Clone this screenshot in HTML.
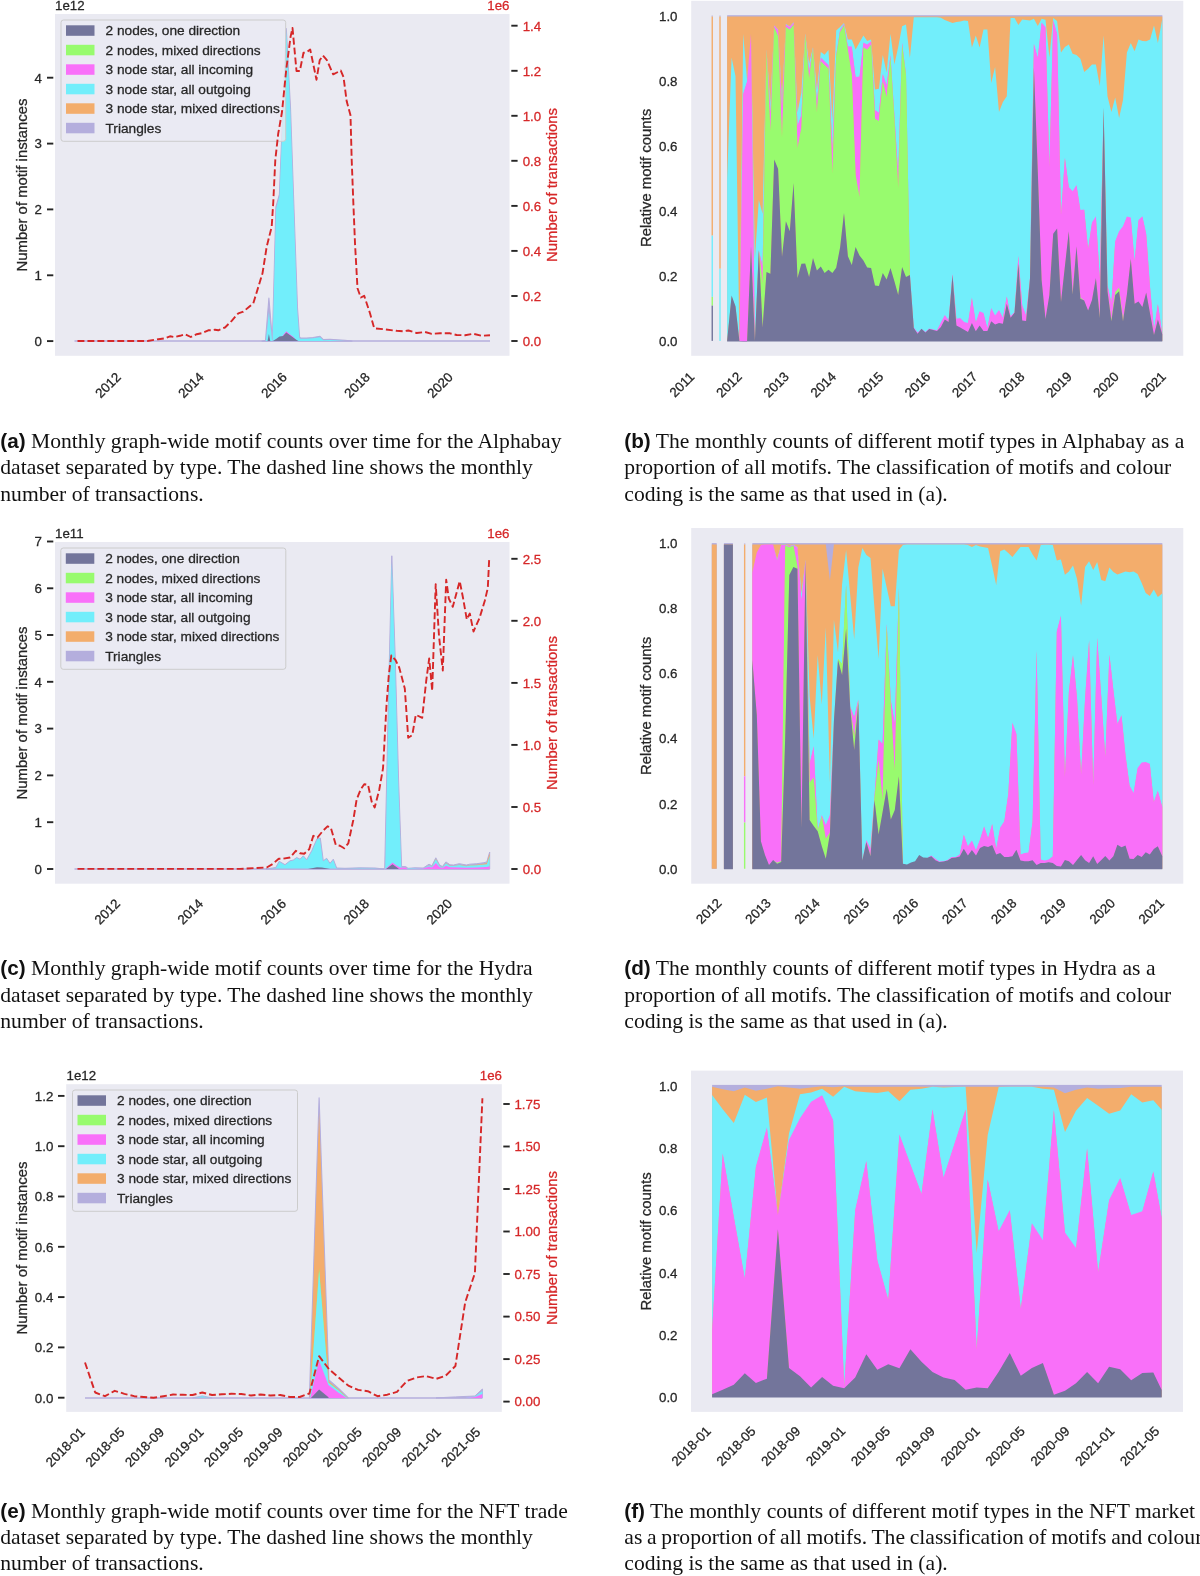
<!DOCTYPE html>
<html lang="en"><head><meta charset="utf-8"><title>Motif counts</title>
<style>
html,body{margin:0;padding:0;background:#fff;overflow:hidden;}
body{width:1200px;height:1576px;position:relative;overflow:hidden;font-family:"Liberation Sans",sans-serif;}
.cap{position:absolute;font-family:"Liberation Serif",serif;color:#111;white-space:nowrap;}
.cap b{font-family:"Liberation Sans",sans-serif;font-weight:bold;}
</style></head><body>
<div id="wrap" style="position:absolute;left:0;top:0;width:1200px;height:1576px;will-change:transform;overflow:hidden">
<svg width="1200" height="1576" viewBox="0 0 1200 1576" style="position:absolute;left:0;top:0" font-family="Liberation Sans, sans-serif" stroke-linecap="butt">
<style>text{stroke-width:0.28px;paint-order:stroke fill}</style>
<rect x="55.0" y="14.0" width="454.5" height="341.8" fill="#EAEAF2"/>
<line x1="74.5" y1="341.1" x2="490" y2="341.1" stroke="#B4AEDD" stroke-width="1.5"/>
<polygon points="262.0,341.1 265.5,340.2 268.9,298.0 272.4,339.8 275.9,207.0 279.4,194.5 282.8,110.0 286.3,28.5 290.5,108.0 294.0,209.5 297.5,308.0 299.6,337.3 300.6,338.0 306.7,338.0 313.0,337.5 320.0,336.3 323.3,339.6 330.0,339.3 337.0,339.8 345.0,340.3 352.0,341.1" fill="#B4AEDD" stroke="#B4AEDD" stroke-width="1.1" stroke-linejoin="round"/>
<polygon points="265.8,341.1 268.9,312.0 272.2,341.1" fill="#72EEFB"/>
<polygon points="272.6,341.1 276.1,208.5 279.5,196.0 282.9,112.0 286.3,31.0 290.3,110.0 293.8,210.5 297.2,309.0 299.3,338.0 300.4,338.8 306.7,338.8 313.0,338.3 320.0,337.2 323.3,340.2 330.0,340.0 345.0,341.1" fill="#72EEFB"/>
<polygon points="279.0,341.1 283.0,335.2 286.3,331.3 289.8,334.2 293.2,336.8 297.0,341.1" fill="#F970F9"/>
<polygon points="267.6,341.1 268.9,334.0 270.3,341.1" fill="#73759B"/>
<polygon points="272.8,341.1 276.0,339.0 279.5,336.5 283.0,336.0 286.3,332.5 289.8,335.0 293.2,337.5 296.7,340.0 298.5,341.1" fill="#73759B"/>
<rect x="61.0" y="20.0" width="224.7" height="121.3" rx="2.5" fill="#EAEAF2" fill-opacity="0.8" stroke="#CCCCCC" stroke-width="1"/>
<rect x="66.0" y="25.3" width="28.5" height="10.5" fill="#73759B"/>
<text x="105.5" y="35.2" font-size="13.70" fill="#262626" stroke="#262626">2 nodes, one direction</text>
<rect x="66.0" y="44.8" width="28.5" height="10.5" fill="#98FB6E"/>
<text x="105.5" y="54.7" font-size="13.70" fill="#262626" stroke="#262626">2 nodes, mixed directions</text>
<rect x="66.0" y="64.3" width="28.5" height="10.5" fill="#F970F9"/>
<text x="105.5" y="74.2" font-size="13.70" fill="#262626" stroke="#262626">3 node star, all incoming</text>
<rect x="66.0" y="83.8" width="28.5" height="10.5" fill="#72EEFB"/>
<text x="105.5" y="93.7" font-size="13.70" fill="#262626" stroke="#262626">3 node star, all outgoing</text>
<rect x="66.0" y="103.3" width="28.5" height="10.5" fill="#F3AD6C"/>
<text x="105.5" y="113.2" font-size="13.70" fill="#262626" stroke="#262626">3 node star, mixed directions</text>
<rect x="66.0" y="122.8" width="28.5" height="10.5" fill="#B4AEDD"/>
<text x="105.5" y="132.7" font-size="13.70" fill="#262626" stroke="#262626">Triangles</text>
<polyline points="77.5,341.0 147.5,341.0 158.3,339.2 165.0,338.3 170.0,336.3 174.2,337.0 180.0,335.8 185.0,334.2 190.8,337.0 196.7,334.2 202.5,333.0 208.3,330.3 211.7,330.3 215.0,329.7 218.3,330.3 225.0,327.5 231.7,320.8 238.3,313.3 243.3,311.7 249.2,306.7 253.3,303.3 262.5,273.3 266.7,246.7 271.7,226.7 273.3,201.7 275.3,160.0 278.2,133.7 282.0,112.0 286.3,69.0 290.6,36.6 292.5,28.0 296.5,71.0 299.8,71.0 303.5,52.8 306.8,52.2 310.2,49.5 316.5,79.7 319.7,60.3 323.0,55.5 326.7,59.8 333.2,74.3 340.8,70.6 343.5,77.0 346.7,101.3 350.5,115.3 351.7,160.0 353.3,201.7 355.0,243.3 357.5,288.3 360.8,297.5 364.2,295.8 370.0,313.3 374.2,328.3 383.3,329.2 396.7,330.8 403.3,331.3 408.3,330.5 416.7,333.0 425.0,332.0 431.7,333.8 440.0,333.3 450.0,333.3 456.7,335.0 465.0,335.3 473.3,333.8 481.7,335.8 490.0,335.3" fill="none" stroke="#D62728" stroke-width="1.9" stroke-dasharray="6.9 3.05" stroke-linejoin="round"/>
<line x1="47.0" y1="341.1" x2="53.3" y2="341.1" stroke="#262626" stroke-width="1.9"/>
<line x1="47.0" y1="275.3" x2="53.3" y2="275.3" stroke="#262626" stroke-width="1.9"/>
<line x1="47.0" y1="209.4" x2="53.3" y2="209.4" stroke="#262626" stroke-width="1.9"/>
<line x1="47.0" y1="143.6" x2="53.3" y2="143.6" stroke="#262626" stroke-width="1.9"/>
<line x1="47.0" y1="77.7" x2="53.3" y2="77.7" stroke="#262626" stroke-width="1.9"/>
<text x="42.0" y="345.9" font-size="13.30" fill="#262626" stroke="#262626" text-anchor="end" >0</text>
<text x="42.0" y="280.1" font-size="13.30" fill="#262626" stroke="#262626" text-anchor="end" >1</text>
<text x="42.0" y="214.2" font-size="13.30" fill="#262626" stroke="#262626" text-anchor="end" >2</text>
<text x="42.0" y="148.4" font-size="13.30" fill="#262626" stroke="#262626" text-anchor="end" >3</text>
<text x="42.0" y="82.5" font-size="13.30" fill="#262626" stroke="#262626" text-anchor="end" >4</text>
<text x="55.0" y="10.0" font-size="13.30" fill="#262626" stroke="#262626" text-anchor="start" >1e12</text>
<text x="21.5" y="185.0" font-size="14.90" fill="#262626" stroke="#262626" text-anchor="middle" dy="0.36em" transform="rotate(-90 21.5 185.0)">Number of motif instances</text>
<line x1="511.3" y1="341.0" x2="517.6" y2="341.0" stroke="#262626" stroke-width="1.9"/>
<line x1="511.3" y1="296.0" x2="517.6" y2="296.0" stroke="#262626" stroke-width="1.9"/>
<line x1="511.3" y1="250.9" x2="517.6" y2="250.9" stroke="#262626" stroke-width="1.9"/>
<line x1="511.3" y1="205.9" x2="517.6" y2="205.9" stroke="#262626" stroke-width="1.9"/>
<line x1="511.3" y1="160.8" x2="517.6" y2="160.8" stroke="#262626" stroke-width="1.9"/>
<line x1="511.3" y1="115.8" x2="517.6" y2="115.8" stroke="#262626" stroke-width="1.9"/>
<line x1="511.3" y1="70.8" x2="517.6" y2="70.8" stroke="#262626" stroke-width="1.9"/>
<line x1="511.3" y1="25.7" x2="517.6" y2="25.7" stroke="#262626" stroke-width="1.9"/>
<text x="522.7" y="345.8" font-size="13.30" fill="#D62728" stroke="#D62728" text-anchor="start" >0.0</text>
<text x="522.7" y="300.8" font-size="13.30" fill="#D62728" stroke="#D62728" text-anchor="start" >0.2</text>
<text x="522.7" y="255.7" font-size="13.30" fill="#D62728" stroke="#D62728" text-anchor="start" >0.4</text>
<text x="522.7" y="210.7" font-size="13.30" fill="#D62728" stroke="#D62728" text-anchor="start" >0.6</text>
<text x="522.7" y="165.6" font-size="13.30" fill="#D62728" stroke="#D62728" text-anchor="start" >0.8</text>
<text x="522.7" y="120.6" font-size="13.30" fill="#D62728" stroke="#D62728" text-anchor="start" >1.0</text>
<text x="522.7" y="75.6" font-size="13.30" fill="#D62728" stroke="#D62728" text-anchor="start" >1.2</text>
<text x="522.7" y="30.5" font-size="13.30" fill="#D62728" stroke="#D62728" text-anchor="start" >1.4</text>
<text x="509.5" y="10.0" font-size="13.30" fill="#D62728" stroke="#D62728" text-anchor="end" >1e6</text>
<text x="551.5" y="185.0" font-size="14.90" fill="#D62728" stroke="#D62728" text-anchor="middle" dy="0.36em" transform="rotate(-90 551.5 185.0)">Number of transactions</text>
<text x="107.8" y="385.0" font-size="13.30" fill="#262626" stroke="#262626" text-anchor="middle" dy="0.36em" transform="rotate(-45 107.8 385.0)">2012</text>
<text x="190.8" y="385.0" font-size="13.30" fill="#262626" stroke="#262626" text-anchor="middle" dy="0.36em" transform="rotate(-45 190.8 385.0)">2014</text>
<text x="273.8" y="385.0" font-size="13.30" fill="#262626" stroke="#262626" text-anchor="middle" dy="0.36em" transform="rotate(-45 273.8 385.0)">2016</text>
<text x="356.8" y="385.0" font-size="13.30" fill="#262626" stroke="#262626" text-anchor="middle" dy="0.36em" transform="rotate(-45 356.8 385.0)">2018</text>
<text x="439.8" y="385.0" font-size="13.30" fill="#262626" stroke="#262626" text-anchor="middle" dy="0.36em" transform="rotate(-45 439.8 385.0)">2020</text>
<rect x="691.2" y="0.8" width="492.1" height="355.0" fill="#EAEAF2"/>
<rect x="711.55" y="15.60" width="1.40" height="1.00" fill="#B4AEDD"/>
<rect x="711.55" y="16.60" width="1.40" height="219.03" fill="#F3AD6C"/>
<rect x="711.55" y="235.62" width="1.40" height="61.25" fill="#72EEFB"/>
<rect x="711.55" y="296.88" width="1.40" height="8.75" fill="#98FB6E"/>
<rect x="711.55" y="305.62" width="1.40" height="35.27" fill="#73759B"/>
<rect x="719.30" y="15.60" width="1.40" height="1.00" fill="#B4AEDD"/>
<rect x="719.30" y="16.60" width="1.40" height="252.15" fill="#F3AD6C"/>
<rect x="719.30" y="268.75" width="1.40" height="72.15" fill="#72EEFB"/>
<rect x="727.15" y="15.20" width="435.20" height="325.70" fill="#B4AEDD"/>
<polygon points="727.1,340.9 727.1,16.6 731.6,16.6 735.5,16.6 739.4,16.6 743.2,16.6 747.1,16.6 751.0,16.6 754.9,16.6 758.8,16.6 762.6,16.6 766.5,16.6 770.4,16.6 774.2,16.6 778.1,16.6 782.0,16.6 785.9,16.6 789.8,16.6 793.6,16.6 797.5,16.6 801.4,16.6 805.2,16.6 809.1,16.6 813.0,16.6 816.9,16.6 820.8,16.6 824.6,16.6 828.5,16.6 832.4,16.6 836.2,16.6 840.1,16.6 844.0,16.6 847.9,16.6 851.8,16.6 855.6,16.6 859.5,16.6 863.4,16.6 867.2,16.6 871.1,16.6 875.0,16.6 878.9,16.6 882.8,16.6 886.6,16.6 890.5,16.6 894.4,16.6 898.2,16.6 902.1,16.6 906.0,16.6 909.9,16.6 913.8,16.6 917.6,16.6 921.5,16.6 925.4,16.6 929.2,16.6 933.1,16.6 937.0,16.6 940.9,16.6 944.8,16.6 948.6,16.6 952.5,16.6 956.4,16.6 960.2,16.6 964.1,16.6 968.0,16.6 971.9,16.6 975.8,16.6 979.6,16.6 983.5,16.6 987.4,16.6 991.2,16.6 995.1,16.6 999.0,16.6 1002.9,16.6 1006.8,16.6 1010.6,16.6 1014.5,16.6 1018.4,16.6 1022.2,16.6 1026.1,16.6 1030.0,16.6 1033.9,16.6 1037.8,16.6 1041.6,16.6 1045.5,16.6 1049.4,16.6 1053.2,16.6 1057.1,16.6 1061.0,16.6 1064.9,16.6 1068.8,16.6 1072.6,16.6 1076.5,16.6 1080.4,16.6 1084.2,16.6 1088.1,16.6 1092.0,16.6 1095.9,16.6 1099.8,16.6 1103.6,16.6 1107.5,16.6 1111.4,16.6 1115.2,16.6 1119.1,16.6 1123.0,16.6 1126.9,16.6 1130.8,16.6 1134.6,16.6 1138.5,16.6 1142.4,16.6 1146.2,16.6 1150.1,16.6 1154.0,16.6 1157.9,16.6 1162.3,16.6 1162.3,340.9" fill="#F3AD6C"/>
<polygon points="727.1,178.8 731.6,57.5 735.5,76.2 739.4,340.9 743.2,33.8 747.1,80.6 751.0,33.8 754.9,258.8 758.8,200.0 762.6,213.8 766.5,49.4 770.4,103.8 774.2,25.4 778.1,29.4 782.0,100.0 785.9,24.1 789.8,26.6 793.6,22.2 797.5,112.5 801.4,92.5 805.2,33.5 809.1,63.8 813.0,47.2 816.9,90.6 820.8,51.9 824.6,54.8 828.5,50.0 832.4,120.6 836.2,30.6 840.1,26.9 844.0,23.1 847.9,39.4 851.8,39.4 855.6,49.4 859.5,42.5 863.4,35.6 867.2,41.0 871.1,39.4 875.0,89.4 878.9,88.8 882.8,55.0 886.6,72.5 890.5,33.8 894.4,64.4 898.2,46.9 902.1,26.2 906.0,24.4 909.9,58.1 913.8,17.2 917.6,17.2 921.5,17.2 925.4,17.2 929.2,17.2 933.1,17.2 937.0,17.2 940.9,17.8 944.8,20.0 948.6,21.5 952.5,23.1 956.4,21.9 960.2,21.5 964.1,20.6 968.0,21.0 971.9,47.5 975.8,35.6 979.6,47.5 983.5,29.4 987.4,29.4 991.2,83.1 995.1,66.9 999.0,111.9 1002.9,101.9 1006.8,96.2 1010.6,18.1 1014.5,18.1 1018.4,25.0 1022.2,19.4 1026.1,20.0 1030.0,20.6 1033.9,18.8 1037.8,26.0 1041.6,18.8 1045.5,19.8 1049.4,57.5 1053.2,18.1 1057.1,21.0 1061.0,52.5 1064.9,46.9 1068.8,44.4 1072.6,53.8 1076.5,55.0 1080.4,58.8 1084.2,71.9 1088.1,68.8 1092.0,64.4 1095.9,64.4 1099.8,86.0 1103.6,35.6 1107.5,96.2 1111.4,111.9 1115.2,97.5 1119.1,118.1 1123.0,100.0 1126.9,52.5 1130.8,43.1 1134.6,51.2 1138.5,39.4 1142.4,41.0 1146.2,41.2 1150.1,39.4 1154.0,25.6 1157.9,43.1 1162.3,18.8 1162.3,334.6 1157.9,304.6 1154.0,330.3 1150.1,288.4 1146.2,234.7 1142.4,217.2 1138.5,220.9 1134.6,262.1 1130.8,218.4 1126.9,217.4 1123.0,227.2 1119.1,232.2 1115.2,242.2 1111.4,303.4 1107.5,285.9 1103.6,108.4 1099.8,279.6 1095.9,217.2 1092.0,223.4 1088.1,249.7 1084.2,210.3 1080.4,210.9 1076.5,185.9 1072.6,192.2 1068.8,187.8 1064.9,158.4 1061.0,215.9 1057.1,34.6 1053.2,20.9 1049.4,167.8 1045.5,27.8 1041.6,23.4 1037.8,58.4 1033.9,44.6 1030.0,278.4 1026.1,316.5 1022.2,305.9 1018.4,256.5 1014.5,312.8 1010.6,317.1 1006.8,297.1 1002.9,318.6 999.0,310.9 995.1,316.5 991.2,309.0 987.4,329.0 983.5,314.0 979.6,312.1 975.8,323.4 971.9,298.4 968.0,324.0 964.1,322.8 960.2,319.0 956.4,319.6 952.5,274.6 948.6,320.9 944.8,315.9 940.9,323.4 937.0,331.1 933.1,330.3 929.2,329.4 925.4,332.8 921.5,329.6 917.6,333.4 913.8,328.4 909.9,275.3 906.0,74.7 902.1,43.4 898.2,174.7 894.4,115.9 890.5,55.9 886.6,85.9 882.8,74.7 878.9,113.4 875.0,110.9 871.1,42.1 867.2,45.3 863.4,43.4 859.5,77.4 855.6,77.8 851.8,47.4 847.9,47.1 844.0,24.6 840.1,30.6 836.2,55.6 832.4,149.7 828.5,65.9 824.6,62.1 820.8,58.4 816.9,103.4 813.0,48.6 809.1,72.2 805.2,34.9 801.4,115.9 797.5,126.5 793.6,23.4 789.8,27.8 785.9,25.3 782.0,109.7 778.1,30.9 774.2,26.5 770.4,114.7 766.5,50.6 762.6,267.1 758.8,250.9 754.9,341.4 751.0,33.8 747.1,82.2 743.2,94.7 739.4,340.9 735.5,307.1 731.6,296.5 727.1,341.4" fill="#72EEFB"/>
<polygon points="739.4,340.9 743.2,93.8 747.1,81.2 751.0,33.8 754.9,340.9 754.9,340.9 751.0,247.2 747.1,341.4 743.2,341.4 739.4,340.9" fill="#F970F9"/>
<polygon points="758.8,250.0 762.6,266.2 766.5,49.8 770.4,113.8 774.2,25.6 778.1,30.0 782.0,108.8 785.9,24.4 789.8,26.9 793.6,22.5 797.5,125.6 801.4,115.0 805.2,34.0 809.1,71.2 813.0,47.8 816.9,102.5 820.8,57.5 824.6,61.2 828.5,65.0 832.4,148.8 836.2,54.8 840.1,29.8 844.0,23.8 847.9,46.2 851.8,46.5 855.6,76.9 859.5,76.5 863.4,42.5 867.2,44.4 871.1,41.2 875.0,110.0 878.9,112.5 882.8,73.8 886.6,85.0 890.5,55.0 894.4,115.0 898.2,173.8 902.1,42.5 906.0,73.8 909.9,274.4 913.8,327.5 917.6,332.5 921.5,328.8 925.4,331.9 929.2,328.5 933.1,329.4 937.0,330.2 940.9,322.5 944.8,315.0 948.6,320.0 952.5,273.8 956.4,318.8 960.2,318.1 964.1,321.9 968.0,323.1 971.9,297.5 975.8,322.5 979.6,311.2 983.5,313.1 987.4,328.1 991.2,308.1 995.1,315.6 999.0,310.0 1002.9,317.8 1006.8,296.2 1010.6,316.2 1014.5,311.9 1018.4,255.6 1022.2,305.0 1026.1,315.6 1030.0,277.5 1033.9,43.8 1037.8,57.5 1041.6,22.5 1045.5,26.9 1049.4,166.9 1053.2,20.0 1057.1,33.8 1061.0,215.0 1064.9,157.5 1068.8,186.9 1072.6,191.2 1076.5,185.0 1080.4,210.0 1084.2,209.4 1088.1,248.8 1092.0,222.5 1095.9,216.2 1099.8,278.8 1103.6,107.5 1107.5,285.0 1111.4,302.5 1115.2,241.2 1119.1,231.2 1123.0,226.2 1126.9,216.5 1130.8,217.5 1134.6,261.2 1138.5,220.0 1142.4,216.2 1146.2,233.8 1150.1,287.5 1154.0,329.4 1157.9,303.8 1162.3,333.8 1162.3,335.3 1157.9,320.3 1154.0,335.9 1150.1,314.6 1146.2,293.4 1142.4,307.8 1138.5,302.4 1134.6,304.6 1130.8,259.6 1126.9,295.3 1123.0,320.6 1119.1,288.6 1115.2,292.9 1111.4,320.6 1107.5,292.1 1103.6,107.5 1099.8,317.5 1095.9,279.0 1092.0,300.9 1088.1,311.5 1084.2,301.5 1080.4,298.4 1076.5,247.2 1072.6,294.1 1068.8,232.2 1064.9,267.1 1061.0,302.8 1057.1,229.4 1053.2,234.7 1049.4,295.9 1045.5,319.9 1041.6,280.9 1037.8,172.9 1033.9,68.4 1030.0,279.6 1026.1,321.9 1022.2,321.5 1018.4,264.6 1014.5,313.6 1010.6,318.6 1006.8,304.6 1002.9,324.6 999.0,324.0 995.1,325.3 991.2,322.1 987.4,331.9 983.5,331.9 979.6,326.5 975.8,332.1 971.9,324.0 968.0,332.8 964.1,330.6 960.2,328.4 956.4,326.5 952.5,275.9 948.6,322.8 944.8,320.3 940.9,327.8 937.0,331.9 933.1,330.9 929.2,329.9 925.4,333.4 921.5,328.8 917.6,334.6 913.8,329.0 909.9,275.9 906.0,75.9 902.1,45.9 898.2,189.0 894.4,119.7 890.5,58.4 886.6,97.8 882.8,82.2 878.9,121.9 875.0,119.7 871.1,45.3 867.2,50.3 863.4,48.4 859.5,197.8 855.6,175.9 851.8,75.9 847.9,50.9 844.0,25.9 840.1,32.8 836.2,57.1 832.4,174.7 828.5,69.4 824.6,65.9 820.8,62.1 816.9,113.4 813.0,49.0 809.1,79.7 805.2,35.3 801.4,128.4 797.5,149.0 793.6,25.3 789.8,30.3 785.9,27.8 782.0,138.4 778.1,37.1 774.2,27.8 770.4,132.2 766.5,50.9 762.6,284.6 758.8,250.0" fill="#F970F9"/>
<polygon points="758.8,250.0 762.6,283.8 766.5,50.0 770.4,131.2 774.2,26.9 778.1,36.2 782.0,137.5 785.9,26.9 789.8,29.4 793.6,24.4 797.5,148.1 801.4,127.5 805.2,34.4 809.1,78.8 813.0,48.1 816.9,112.5 820.8,61.2 824.6,65.0 828.5,68.5 832.4,173.8 836.2,56.2 840.1,31.9 844.0,25.0 847.9,50.0 851.8,75.0 855.6,175.0 859.5,196.9 863.4,47.5 867.2,49.4 871.1,44.4 875.0,118.8 878.9,121.0 882.8,81.2 886.6,96.9 890.5,57.5 894.4,118.8 898.2,188.1 902.1,45.0 906.0,75.0 909.9,275.0 909.9,275.0 906.0,277.8 902.1,267.8 898.2,295.9 894.4,282.1 890.5,269.0 886.6,280.3 882.8,274.0 878.9,286.9 875.0,286.5 871.1,269.0 867.2,268.4 863.4,261.5 859.5,256.5 855.6,247.8 851.8,265.9 847.9,257.1 844.0,214.0 840.1,248.4 836.2,268.6 832.4,273.8 828.5,270.6 824.6,274.0 820.8,267.4 816.9,271.5 813.0,259.0 809.1,277.8 805.2,264.4 801.4,264.6 797.5,279.0 793.6,184.0 789.8,232.2 785.9,222.2 782.0,257.8 778.1,169.7 774.2,160.3 770.4,274.6 766.5,272.8 762.6,328.4 758.8,250.0" fill="#98FB6E"/>
<polygon points="1068.8,231.2 1072.6,293.2 1076.5,246.2 1080.4,297.6 1084.2,300.6 1084.2,300.6 1080.4,299.6 1076.5,246.2 1072.6,295.3 1068.8,231.2" fill="#98FB6E"/>
<polygon points="1095.9,278.1 1099.8,316.6 1103.6,107.5 1103.6,107.5 1099.8,319.0 1095.9,278.1" fill="#98FB6E"/>
<polygon points="1107.5,291.2 1111.4,319.8 1115.2,292.0 1119.1,287.8 1123.0,319.8 1126.9,294.4 1126.9,294.4 1123.0,322.1 1119.1,292.1 1115.2,295.9 1111.4,322.1 1107.5,291.2" fill="#98FB6E"/>
<polygon points="727.1,341.4 727.1,340.9 731.6,295.6 735.5,306.2 739.4,340.9 743.2,340.9 747.1,340.9 751.0,246.2 754.9,340.9 758.8,250.0 762.6,327.5 766.5,271.9 770.4,273.8 774.2,159.4 778.1,168.8 782.0,256.9 785.9,221.2 789.8,231.2 793.6,183.1 797.5,278.1 801.4,263.8 805.2,263.5 809.1,276.9 813.0,258.1 816.9,270.6 820.8,266.5 824.6,273.1 828.5,269.8 832.4,272.9 836.2,267.8 840.1,247.5 844.0,213.1 847.9,256.2 851.8,265.0 855.6,246.9 859.5,255.6 863.4,260.6 867.2,267.5 871.1,268.1 875.0,285.6 878.9,286.0 882.8,273.1 886.6,279.4 890.5,268.1 894.4,281.2 898.2,295.0 902.1,266.9 906.0,276.9 909.9,275.0 913.8,328.1 917.6,333.8 921.5,328.8 925.4,332.5 929.2,329.0 933.1,330.0 937.0,331.0 940.9,326.9 944.8,319.4 948.6,321.9 952.5,275.0 956.4,325.6 960.2,327.5 964.1,329.8 968.0,331.9 971.9,323.1 975.8,331.2 979.6,325.6 983.5,331.0 987.4,331.0 991.2,321.2 995.1,324.4 999.0,323.1 1002.9,323.8 1006.8,303.8 1010.6,317.8 1014.5,312.8 1018.4,263.8 1022.2,320.6 1026.1,321.0 1030.0,278.8 1033.9,67.5 1037.8,172.0 1041.6,280.0 1045.5,319.0 1049.4,295.0 1053.2,233.8 1057.1,228.5 1061.0,301.9 1064.9,266.2 1068.8,231.2 1072.6,294.4 1076.5,246.2 1080.4,298.8 1084.2,300.6 1088.1,310.6 1092.0,300.0 1095.9,278.1 1099.8,318.1 1103.6,107.5 1107.5,291.2 1111.4,321.2 1115.2,295.0 1119.1,291.2 1123.0,321.2 1126.9,294.4 1130.8,258.8 1134.6,303.8 1138.5,301.5 1142.4,306.9 1146.2,292.5 1150.1,313.8 1154.0,335.0 1157.9,319.4 1162.3,334.4 1162.3,341.4" fill="#73759B"/>
<text x="677.5" y="346.1" font-size="13.30" fill="#262626" stroke="#262626" text-anchor="end" >0.0</text>
<text x="677.5" y="281.0" font-size="13.30" fill="#262626" stroke="#262626" text-anchor="end" >0.2</text>
<text x="677.5" y="215.9" font-size="13.30" fill="#262626" stroke="#262626" text-anchor="end" >0.4</text>
<text x="677.5" y="150.8" font-size="13.30" fill="#262626" stroke="#262626" text-anchor="end" >0.6</text>
<text x="677.5" y="85.7" font-size="13.30" fill="#262626" stroke="#262626" text-anchor="end" >0.8</text>
<text x="677.5" y="20.6" font-size="13.30" fill="#262626" stroke="#262626" text-anchor="end" >1.0</text>
<text x="645.5" y="178.0" font-size="14.90" fill="#262626" stroke="#262626" text-anchor="middle" dy="0.36em" transform="rotate(-90 645.5 178.0)">Relative motif counts</text>
<text x="681.8" y="384.5" font-size="13.30" fill="#262626" stroke="#262626" text-anchor="middle" dy="0.36em" transform="rotate(-45 681.8 384.5)">2011</text>
<text x="728.9" y="384.5" font-size="13.30" fill="#262626" stroke="#262626" text-anchor="middle" dy="0.36em" transform="rotate(-45 728.9 384.5)">2012</text>
<text x="776.0" y="384.5" font-size="13.30" fill="#262626" stroke="#262626" text-anchor="middle" dy="0.36em" transform="rotate(-45 776.0 384.5)">2013</text>
<text x="823.1" y="384.5" font-size="13.30" fill="#262626" stroke="#262626" text-anchor="middle" dy="0.36em" transform="rotate(-45 823.1 384.5)">2014</text>
<text x="870.3" y="384.5" font-size="13.30" fill="#262626" stroke="#262626" text-anchor="middle" dy="0.36em" transform="rotate(-45 870.3 384.5)">2015</text>
<text x="917.4" y="384.5" font-size="13.30" fill="#262626" stroke="#262626" text-anchor="middle" dy="0.36em" transform="rotate(-45 917.4 384.5)">2016</text>
<text x="964.5" y="384.5" font-size="13.30" fill="#262626" stroke="#262626" text-anchor="middle" dy="0.36em" transform="rotate(-45 964.5 384.5)">2017</text>
<text x="1011.7" y="384.5" font-size="13.30" fill="#262626" stroke="#262626" text-anchor="middle" dy="0.36em" transform="rotate(-45 1011.7 384.5)">2018</text>
<text x="1058.8" y="384.5" font-size="13.30" fill="#262626" stroke="#262626" text-anchor="middle" dy="0.36em" transform="rotate(-45 1058.8 384.5)">2019</text>
<text x="1105.9" y="384.5" font-size="13.30" fill="#262626" stroke="#262626" text-anchor="middle" dy="0.36em" transform="rotate(-45 1105.9 384.5)">2020</text>
<text x="1153.0" y="384.5" font-size="13.30" fill="#262626" stroke="#262626" text-anchor="middle" dy="0.36em" transform="rotate(-45 1153.0 384.5)">2021</text>
<rect x="55.0" y="542.0" width="454.5" height="341.7" fill="#EAEAF2"/>
<line x1="74.5" y1="869.0" x2="489.7" y2="869.0" stroke="#B4AEDD" stroke-width="1.5"/>
<polygon points="266.0,869.0 275.8,867.5 279.2,861.3 285.0,864.7 290.0,860.8 293.3,860.0 296.7,857.5 300.0,859.2 303.3,855.8 306.7,859.7 311.7,850.8 317.0,838.7 320.3,838.0 323.3,860.8 326.7,858.3 330.0,863.3 333.3,859.2 336.7,868.0 345.0,868.3 360.0,867.8 375.0,868.0 384.0,869.0" fill="#72EEFB" stroke="#B4AEDD" stroke-width="1.0" stroke-linejoin="round"/>
<polygon points="308.0,869.0 317.0,867.3 322.0,867.6 330.0,869.0" fill="#73759B"/>
<polygon points="384.7,869.0 388.2,710.0 391.8,555.8 395.3,660.0 398.6,780.0 401.6,866.6 405.7,866.6 408.0,868.3 415.0,867.8 423.2,868.0 429.0,864.2 431.9,865.8 435.8,857.8 439.5,864.8 442.4,866.6 445.9,861.9 450.0,864.8 453.5,865.0 459.3,863.7 466.3,865.0 469.8,864.2 476.8,863.7 483.8,862.7 486.8,861.9 489.7,852.0 489.7,869.0" fill="#B4AEDD" stroke="#B4AEDD" stroke-width="1.0" stroke-linejoin="round"/>
<polygon points="401.6,869.0 401.6,867.6 405.7,867.6 408.0,869.0 415.0,868.8 423.2,869.0 429.0,865.2 431.9,866.8 435.8,858.8 439.5,865.8 442.4,867.6 445.9,862.9 450.0,865.8 453.5,866.0 459.3,864.7 466.3,866.0 469.8,865.2 476.8,864.7 483.8,863.7 486.8,862.9 489.7,853.0 489.7,869.0" fill="#F3AD6C"/>
<polygon points="385.2,869.0 388.5,712.0 391.8,562.0 395.0,662.0 398.2,781.0 401.3,867.2 405.7,867.4 408.0,868.6 415.0,868.3 423.2,868.4 429.0,865.3 431.9,866.7 435.8,859.3 439.5,865.8 442.4,867.4 445.9,863.2 450.0,865.9 453.5,866.1 459.3,865.0 466.3,866.2 469.8,865.6 476.8,865.2 483.8,864.6 486.8,864.2 489.7,856.0 489.7,869.0" fill="#72EEFB"/>
<polygon points="385.5,869.0 388.7,866.0 392.5,862.5 396.5,865.5 400.0,867.5 405.7,867.6 408.0,869.0 423.2,868.6 429.0,866.6 431.9,867.6 435.9,863.1 439.5,867.0 442.4,868.0 446.0,865.8 450.0,867.2 459.3,867.4 466.3,867.8 476.8,867.4 486.8,867.0 489.7,866.3 489.7,869.0" fill="#F970F9"/>
<polygon points="386.0,869.0 389.0,866.8 392.5,864.2 396.0,866.8 399.0,869.0" fill="#73759B"/>
<rect x="60.8" y="548.0" width="225.0" height="121.3" rx="2.5" fill="#EAEAF2" fill-opacity="0.8" stroke="#CCCCCC" stroke-width="1"/>
<rect x="65.8" y="553.3" width="28.5" height="10.5" fill="#73759B"/>
<text x="105.2" y="563.2" font-size="13.70" fill="#262626" stroke="#262626">2 nodes, one direction</text>
<rect x="65.8" y="572.8" width="28.5" height="10.5" fill="#98FB6E"/>
<text x="105.2" y="582.7" font-size="13.70" fill="#262626" stroke="#262626">2 nodes, mixed directions</text>
<rect x="65.8" y="592.3" width="28.5" height="10.5" fill="#F970F9"/>
<text x="105.2" y="602.2" font-size="13.70" fill="#262626" stroke="#262626">3 node star, all incoming</text>
<rect x="65.8" y="611.8" width="28.5" height="10.5" fill="#72EEFB"/>
<text x="105.2" y="621.7" font-size="13.70" fill="#262626" stroke="#262626">3 node star, all outgoing</text>
<rect x="65.8" y="631.3" width="28.5" height="10.5" fill="#F3AD6C"/>
<text x="105.2" y="641.2" font-size="13.70" fill="#262626" stroke="#262626">3 node star, mixed directions</text>
<rect x="65.8" y="650.8" width="28.5" height="10.5" fill="#B4AEDD"/>
<text x="105.2" y="660.7" font-size="13.70" fill="#262626" stroke="#262626">Triangles</text>
<polyline points="77.5,868.9 240.0,868.9 256.7,868.0 266.7,867.5 272.5,864.2 278.7,858.7 283.3,858.7 290.0,857.5 295.8,850.8 300.0,853.3 304.2,853.7 309.2,849.2 313.3,835.8 317.5,837.5 322.5,831.3 327.5,826.3 330.8,827.5 335.8,845.0 340.0,845.8 344.2,848.3 348.3,843.3 353.3,820.0 356.7,799.2 360.8,789.2 364.2,784.2 368.0,784.7 371.7,801.7 374.7,807.5 379.2,790.0 383.0,768.3 383.5,760.0 386.5,705.0 388.8,675.0 391.3,655.5 395.5,660.0 399.2,667.5 404.8,688.5 408.2,737.7 412.3,735.0 415.8,714.8 422.2,717.8 426.2,681.0 429.2,658.5 432.2,690.8 435.7,584.2 439.0,636.0 442.8,670.5 446.2,579.8 448.8,598.5 452.8,606.8 459.7,581.2 463.0,597.8 466.8,619.5 469.8,613.5 473.5,631.5 479.5,618.0 484.8,600.8 487.8,588.0 489.2,558.8" fill="none" stroke="#D62728" stroke-width="1.9" stroke-dasharray="6.9 3.05" stroke-linejoin="round"/>
<line x1="47.0" y1="869.0" x2="53.3" y2="869.0" stroke="#262626" stroke-width="1.9"/>
<line x1="47.0" y1="822.2" x2="53.3" y2="822.2" stroke="#262626" stroke-width="1.9"/>
<line x1="47.0" y1="775.4" x2="53.3" y2="775.4" stroke="#262626" stroke-width="1.9"/>
<line x1="47.0" y1="728.6" x2="53.3" y2="728.6" stroke="#262626" stroke-width="1.9"/>
<line x1="47.0" y1="681.8" x2="53.3" y2="681.8" stroke="#262626" stroke-width="1.9"/>
<line x1="47.0" y1="635.0" x2="53.3" y2="635.0" stroke="#262626" stroke-width="1.9"/>
<line x1="47.0" y1="588.3" x2="53.3" y2="588.3" stroke="#262626" stroke-width="1.9"/>
<line x1="47.0" y1="541.5" x2="53.3" y2="541.5" stroke="#262626" stroke-width="1.9"/>
<text x="42.0" y="873.8" font-size="13.30" fill="#262626" stroke="#262626" text-anchor="end" >0</text>
<text x="42.0" y="827.0" font-size="13.30" fill="#262626" stroke="#262626" text-anchor="end" >1</text>
<text x="42.0" y="780.2" font-size="13.30" fill="#262626" stroke="#262626" text-anchor="end" >2</text>
<text x="42.0" y="733.4" font-size="13.30" fill="#262626" stroke="#262626" text-anchor="end" >3</text>
<text x="42.0" y="686.6" font-size="13.30" fill="#262626" stroke="#262626" text-anchor="end" >4</text>
<text x="42.0" y="639.8" font-size="13.30" fill="#262626" stroke="#262626" text-anchor="end" >5</text>
<text x="42.0" y="593.1" font-size="13.30" fill="#262626" stroke="#262626" text-anchor="end" >6</text>
<text x="42.0" y="546.3" font-size="13.30" fill="#262626" stroke="#262626" text-anchor="end" >7</text>
<text x="55.0" y="537.5" font-size="13.30" fill="#262626" stroke="#262626" text-anchor="start" >1e11</text>
<text x="21.5" y="713.0" font-size="14.90" fill="#262626" stroke="#262626" text-anchor="middle" dy="0.36em" transform="rotate(-90 21.5 713.0)">Number of motif instances</text>
<line x1="511.3" y1="869.0" x2="517.6" y2="869.0" stroke="#262626" stroke-width="1.9"/>
<line x1="511.3" y1="807.0" x2="517.6" y2="807.0" stroke="#262626" stroke-width="1.9"/>
<line x1="511.3" y1="744.9" x2="517.6" y2="744.9" stroke="#262626" stroke-width="1.9"/>
<line x1="511.3" y1="682.9" x2="517.6" y2="682.9" stroke="#262626" stroke-width="1.9"/>
<line x1="511.3" y1="620.8" x2="517.6" y2="620.8" stroke="#262626" stroke-width="1.9"/>
<line x1="511.3" y1="558.8" x2="517.6" y2="558.8" stroke="#262626" stroke-width="1.9"/>
<text x="522.7" y="873.8" font-size="13.30" fill="#D62728" stroke="#D62728" text-anchor="start" >0.0</text>
<text x="522.7" y="811.8" font-size="13.30" fill="#D62728" stroke="#D62728" text-anchor="start" >0.5</text>
<text x="522.7" y="749.7" font-size="13.30" fill="#D62728" stroke="#D62728" text-anchor="start" >1.0</text>
<text x="522.7" y="687.6" font-size="13.30" fill="#D62728" stroke="#D62728" text-anchor="start" >1.5</text>
<text x="522.7" y="625.6" font-size="13.30" fill="#D62728" stroke="#D62728" text-anchor="start" >2.0</text>
<text x="522.7" y="563.5" font-size="13.30" fill="#D62728" stroke="#D62728" text-anchor="start" >2.5</text>
<text x="509.5" y="537.5" font-size="13.30" fill="#D62728" stroke="#D62728" text-anchor="end" >1e6</text>
<text x="551.5" y="713.0" font-size="14.90" fill="#D62728" stroke="#D62728" text-anchor="middle" dy="0.36em" transform="rotate(-90 551.5 713.0)">Number of transactions</text>
<text x="107.2" y="911.5" font-size="13.30" fill="#262626" stroke="#262626" text-anchor="middle" dy="0.36em" transform="rotate(-45 107.2 911.5)">2012</text>
<text x="190.2" y="911.5" font-size="13.30" fill="#262626" stroke="#262626" text-anchor="middle" dy="0.36em" transform="rotate(-45 190.2 911.5)">2014</text>
<text x="273.2" y="911.5" font-size="13.30" fill="#262626" stroke="#262626" text-anchor="middle" dy="0.36em" transform="rotate(-45 273.2 911.5)">2016</text>
<text x="356.2" y="911.5" font-size="13.30" fill="#262626" stroke="#262626" text-anchor="middle" dy="0.36em" transform="rotate(-45 356.2 911.5)">2018</text>
<text x="439.2" y="911.5" font-size="13.30" fill="#262626" stroke="#262626" text-anchor="middle" dy="0.36em" transform="rotate(-45 439.2 911.5)">2020</text>
<rect x="691.2" y="528.0" width="492.1" height="355.7" fill="#EAEAF2"/>
<rect x="711.75" y="543.10" width="4.96" height="325.65" fill="#B4AEDD"/>
<polygon points="711.8,868.8 711.8,544.5 716.7,544.5 716.7,868.8" fill="#F3AD6C"/>
<rect x="723.92" y="543.10" width="9.02" height="325.65" fill="#B4AEDD"/>
<polygon points="723.9,868.8 723.9,544.5 728.4,544.5 732.9,544.5 732.9,868.8" fill="#F3AD6C"/>
<polygon points="723.9,869.2 723.9,544.5 728.4,544.5 732.9,544.5 732.9,869.2" fill="#73759B"/>
<rect x="743.96" y="543.50" width="1.40" height="1.00" fill="#B4AEDD"/>
<rect x="743.96" y="544.50" width="1.40" height="231.75" fill="#F3AD6C"/>
<rect x="743.96" y="776.25" width="1.40" height="46.25" fill="#F970F9"/>
<rect x="743.96" y="822.50" width="1.40" height="46.25" fill="#98FB6E"/>
<rect x="752.33" y="543.10" width="410.01" height="325.65" fill="#B4AEDD"/>
<polygon points="752.3,868.8 752.3,544.5 756.8,544.5 760.9,544.5 765.0,544.5 769.0,544.5 773.1,544.5 777.1,544.5 781.2,544.5 785.2,544.5 789.3,544.5 793.4,544.5 797.4,544.5 801.5,544.5 805.5,544.5 809.6,544.5 813.7,544.5 817.7,544.5 821.8,544.5 825.8,544.5 829.9,580.6 833.9,544.5 838.0,544.5 842.1,544.5 846.1,544.5 850.2,544.5 854.2,544.5 858.3,544.5 862.3,544.5 866.4,544.5 870.5,544.5 874.5,544.5 878.6,544.5 882.6,544.5 886.7,544.5 890.8,544.5 894.8,544.5 898.9,544.5 902.9,544.5 907.0,544.5 911.0,544.5 915.1,544.5 919.2,544.5 923.2,544.5 927.3,544.5 931.3,544.5 935.4,544.5 939.4,544.5 943.5,544.5 947.6,544.5 951.6,544.5 955.7,544.5 959.7,544.5 963.8,544.5 967.9,544.5 971.9,544.5 976.0,544.5 980.0,544.5 984.1,544.5 988.1,544.5 992.2,544.5 996.2,544.5 1000.2,544.5 1004.3,544.5 1008.3,544.5 1012.4,544.5 1016.4,544.5 1020.5,544.5 1024.5,544.5 1028.5,544.5 1032.6,544.5 1036.6,544.5 1040.7,544.5 1044.7,544.5 1048.7,544.5 1052.8,544.5 1056.8,544.5 1060.9,544.5 1064.9,544.5 1068.9,544.5 1073.0,544.5 1077.0,544.5 1081.1,544.5 1085.1,544.5 1089.1,544.5 1093.2,544.5 1097.2,544.5 1101.3,544.5 1105.3,544.5 1109.4,544.5 1113.4,544.5 1117.4,544.5 1121.5,544.5 1125.5,544.5 1129.6,544.5 1133.6,544.5 1137.6,544.5 1141.7,544.5 1145.7,544.5 1149.8,544.5 1153.8,544.5 1157.8,544.5 1162.3,544.5 1162.3,868.8" fill="#F3AD6C"/>
<polygon points="773.1,544.4 777.1,559.4 781.2,544.8 785.2,544.8 789.3,546.0 793.4,544.8 797.4,546.9 801.5,593.1 805.5,559.8 809.6,696.0 813.7,738.8 817.7,655.0 821.8,704.4 825.8,627.5 829.9,782.5 833.9,620.0 838.0,652.5 842.1,584.1 846.1,550.0 850.2,595.0 854.2,639.4 858.3,567.5 862.3,548.1 866.4,555.0 870.5,558.1 874.5,608.8 878.6,658.8 882.6,568.8 886.7,587.5 890.8,606.2 894.8,606.2 898.9,550.0 902.9,545.0 907.0,544.4 911.0,544.4 915.1,544.4 919.2,544.4 923.2,544.4 927.3,544.4 931.3,544.4 935.4,544.4 939.4,544.4 943.5,544.4 947.6,544.4 951.6,544.4 955.7,544.4 959.7,544.4 963.8,544.6 967.9,545.0 971.9,546.9 976.0,545.0 980.0,546.5 984.1,547.2 988.1,548.1 992.2,566.2 996.2,585.0 1000.2,551.2 1004.3,549.4 1008.3,553.1 1012.4,556.9 1016.4,551.9 1020.5,546.9 1024.5,546.9 1028.5,546.9 1032.6,554.4 1036.6,560.6 1040.7,545.0 1044.7,544.8 1048.7,544.8 1052.8,545.0 1056.8,560.6 1060.9,559.4 1064.9,574.8 1068.9,571.5 1073.0,565.6 1077.0,578.8 1081.1,605.6 1085.1,566.9 1089.1,561.2 1093.2,570.0 1097.2,561.9 1101.3,580.0 1105.3,581.2 1109.4,567.5 1113.4,571.9 1117.4,574.4 1121.5,573.1 1125.5,571.5 1129.6,572.2 1133.6,571.5 1137.6,574.0 1141.7,583.1 1145.7,593.1 1149.8,596.0 1153.8,589.4 1157.8,596.9 1162.3,593.5 1162.3,807.8 1157.8,791.5 1153.8,802.8 1149.8,764.6 1145.7,762.8 1141.7,763.4 1137.6,769.0 1133.6,794.0 1129.6,786.5 1125.5,755.9 1121.5,715.9 1117.4,724.6 1113.4,690.9 1109.4,655.3 1105.3,757.8 1101.3,697.9 1097.2,638.4 1093.2,785.9 1089.1,640.9 1085.1,698.9 1081.1,775.3 1077.0,698.4 1073.0,655.9 1068.9,692.1 1064.9,777.8 1060.9,616.5 1056.8,632.1 1052.8,857.1 1048.7,860.3 1044.7,861.5 1040.7,860.3 1036.6,650.9 1032.6,822.1 1028.5,853.4 1024.5,854.0 1020.5,855.3 1016.4,734.6 1012.4,723.4 1008.3,794.6 1004.3,822.1 1000.2,828.4 996.2,849.6 992.2,824.6 988.1,839.0 984.1,827.1 980.0,840.3 976.0,850.9 971.9,841.5 967.9,847.1 963.8,835.3 959.7,855.3 955.7,857.8 951.6,857.8 947.6,860.9 943.5,862.1 939.4,862.4 935.4,859.6 931.3,856.5 927.3,858.6 923.2,858.4 919.2,855.9 915.1,862.1 911.0,863.4 907.0,865.3 902.9,864.6 898.9,588.4 894.8,724.6 890.8,700.9 886.7,624.6 882.6,744.6 878.6,740.3 874.5,796.9 870.5,849.6 866.4,840.9 862.3,861.5 858.3,700.3 854.2,717.8 850.2,707.1 846.1,585.6 842.1,664.6 838.0,659.6 833.9,721.9 829.9,815.9 825.8,825.9 821.8,815.9 817.7,830.9 813.7,746.9 809.6,764.6 805.5,560.9 801.5,601.5 797.4,548.4 793.4,545.9 789.3,547.1 785.2,545.9 781.2,545.9 777.1,561.5 773.1,544.4" fill="#72EEFB"/>
<polygon points="752.3,572.5 756.8,552.5 760.9,545.0 765.0,544.6 769.0,544.4 773.1,544.4 777.1,560.6 781.2,545.0 785.2,545.0 789.3,546.2 793.4,545.0 797.4,547.5 801.5,600.6 805.5,560.0 809.6,763.8 813.7,746.0 817.7,830.0 821.8,815.0 825.8,825.0 829.9,815.0 833.9,721.0 833.9,721.0 829.9,833.4 825.8,839.6 821.8,817.1 817.7,831.5 813.7,778.4 809.6,783.4 805.5,562.1 801.5,829.0 797.4,567.1 793.4,546.5 789.3,548.1 785.2,546.5 781.2,861.8 777.1,863.6 773.1,860.9 769.0,865.9 765.0,855.9 760.9,842.1 756.8,715.9 752.3,660.9" fill="#F970F9"/>
<polygon points="842.1,663.8 846.1,584.8 850.2,706.2 854.2,716.9 858.3,699.4 862.3,860.6 866.4,840.0 870.5,848.8 874.5,796.0 878.6,739.4 882.6,743.8 886.7,623.8 890.8,700.0 894.8,723.8 898.9,587.5 902.9,863.8 902.9,863.8 898.9,589.6 894.8,772.1 890.8,706.9 886.7,627.1 882.6,800.3 878.6,760.9 874.5,798.9 870.5,856.5 866.4,842.8 862.3,860.6 858.3,702.1 854.2,737.1 850.2,707.8 846.1,585.9 842.1,663.8" fill="#F970F9"/>
<polygon points="927.3,857.8 931.3,855.6 935.4,858.8 939.4,861.5 943.5,861.2 947.6,860.0 951.6,856.9 955.7,856.9 959.7,854.4 963.8,834.4 967.9,846.2 971.9,840.6 976.0,850.0 980.0,839.4 984.1,826.2 988.1,838.1 992.2,823.8 996.2,848.8 1000.2,827.5 1004.3,821.2 1008.3,793.8 1012.4,722.5 1016.4,733.8 1020.5,854.4 1024.5,853.1 1028.5,852.5 1032.6,821.2 1036.6,650.0 1040.7,859.4 1044.7,860.6 1048.7,859.4 1052.8,856.2 1056.8,631.2 1060.9,615.6 1064.9,776.9 1068.9,691.2 1073.0,655.0 1077.0,697.5 1081.1,774.4 1085.1,698.0 1089.1,640.0 1093.2,785.0 1097.2,637.5 1101.3,697.0 1105.3,756.9 1109.4,654.4 1113.4,690.0 1117.4,723.8 1121.5,715.0 1125.5,755.0 1129.6,785.6 1133.6,793.1 1137.6,768.1 1141.7,762.5 1145.7,761.9 1149.8,763.8 1153.8,801.9 1157.8,790.6 1162.3,806.9 1162.3,857.1 1157.8,847.1 1153.8,849.9 1149.8,855.3 1145.7,853.1 1141.7,857.8 1137.6,855.9 1133.6,859.9 1129.6,859.6 1125.5,846.5 1121.5,848.1 1117.4,845.6 1113.4,857.1 1109.4,861.5 1105.3,856.9 1101.3,860.9 1097.2,864.9 1093.2,857.1 1089.1,864.0 1085.1,861.1 1081.1,855.9 1077.0,860.9 1073.0,865.9 1068.9,862.1 1064.9,860.9 1060.9,867.4 1056.8,866.9 1052.8,864.0 1048.7,863.1 1044.7,864.0 1040.7,864.0 1036.6,865.9 1032.6,861.1 1028.5,862.1 1024.5,862.1 1020.5,861.5 1016.4,850.6 1012.4,857.1 1008.3,858.0 1004.3,857.8 1000.2,854.0 996.2,855.3 992.2,845.9 988.1,847.8 984.1,846.9 980.0,849.0 976.0,856.5 971.9,850.9 967.9,856.5 963.8,849.6 959.7,857.4 955.7,858.4 951.6,859.0 947.6,861.5 943.5,862.4 939.4,862.8 935.4,861.1 931.3,857.1 927.3,857.8" fill="#F970F9"/>
<polygon points="773.1,860.0 777.1,862.8 781.2,860.9 785.2,545.6 789.3,547.2 793.4,545.6 797.4,566.2 801.5,828.1 801.5,828.1 797.4,569.6 793.4,567.8 789.3,575.9 785.2,738.4 781.2,862.8 777.1,864.6 773.1,860.0" fill="#98FB6E"/>
<polygon points="805.5,561.2 809.6,782.5 813.7,777.5 817.7,830.6 821.8,816.2 825.8,838.8 829.9,832.5 833.9,721.0 838.0,658.8 842.1,663.8 846.1,585.0 850.2,706.9 854.2,736.2 858.3,701.2 862.3,860.6 862.3,860.6 858.3,703.4 854.2,750.9 850.2,708.4 846.1,629.6 842.1,675.9 838.0,660.9 833.9,721.0 829.9,834.6 825.8,859.6 821.8,847.1 817.7,832.1 813.7,826.9 809.6,820.9 805.5,561.2" fill="#98FB6E"/>
<polygon points="866.4,841.9 870.5,855.6 874.5,798.0 878.6,760.0 882.6,799.4 886.7,626.2 890.8,706.0 894.8,771.2 898.9,588.8 902.9,863.8 902.9,863.8 898.9,777.1 894.8,810.9 890.8,820.3 886.7,789.6 882.6,812.8 878.6,835.3 874.5,800.9 870.5,857.1 866.4,841.9" fill="#98FB6E"/>
<polygon points="752.3,869.2 752.3,660.0 756.8,715.0 760.9,841.2 765.0,855.0 769.0,865.0 773.1,860.0 777.1,863.8 781.2,861.9 785.2,737.5 789.3,575.0 793.4,566.9 797.4,568.8 801.5,828.1 805.5,561.2 809.6,820.0 813.7,826.0 817.7,831.2 821.8,846.2 825.8,858.8 829.9,833.8 833.9,721.0 838.0,660.0 842.1,675.0 846.1,628.8 850.2,707.5 854.2,750.0 858.3,702.5 862.3,860.6 866.4,841.9 870.5,856.2 874.5,800.0 878.6,834.4 882.6,811.9 886.7,788.8 890.8,819.4 894.8,810.0 898.9,776.2 902.9,863.8 907.0,864.4 911.0,862.5 915.1,861.2 919.2,855.0 923.2,857.5 927.3,857.8 931.3,856.2 935.4,860.2 939.4,861.9 943.5,861.5 947.6,860.6 951.6,858.1 955.7,857.5 959.7,856.5 963.8,848.8 967.9,855.6 971.9,850.0 976.0,855.6 980.0,848.1 984.1,846.0 988.1,846.9 992.2,845.0 996.2,854.4 1000.2,853.1 1004.3,856.9 1008.3,857.1 1012.4,856.2 1016.4,849.8 1020.5,860.6 1024.5,861.2 1028.5,861.2 1032.6,860.2 1036.6,865.0 1040.7,863.1 1044.7,863.1 1048.7,862.2 1052.8,863.1 1056.8,866.0 1060.9,866.5 1064.9,860.0 1068.9,861.2 1073.0,865.0 1077.0,860.0 1081.1,855.0 1085.1,860.2 1089.1,863.1 1093.2,856.2 1097.2,864.0 1101.3,860.0 1105.3,856.0 1109.4,860.6 1113.4,856.2 1117.4,844.8 1121.5,847.2 1125.5,845.6 1129.6,858.8 1133.6,859.0 1137.6,855.0 1141.7,856.9 1145.7,852.2 1149.8,854.4 1153.8,849.0 1157.8,846.2 1162.3,856.2 1162.3,869.2" fill="#73759B"/>
<text x="677.5" y="873.5" font-size="13.30" fill="#262626" stroke="#262626" text-anchor="end" >0.0</text>
<text x="677.5" y="808.5" font-size="13.30" fill="#262626" stroke="#262626" text-anchor="end" >0.2</text>
<text x="677.5" y="743.4" font-size="13.30" fill="#262626" stroke="#262626" text-anchor="end" >0.4</text>
<text x="677.5" y="678.4" font-size="13.30" fill="#262626" stroke="#262626" text-anchor="end" >0.6</text>
<text x="677.5" y="613.3" font-size="13.30" fill="#262626" stroke="#262626" text-anchor="end" >0.8</text>
<text x="677.5" y="548.3" font-size="13.30" fill="#262626" stroke="#262626" text-anchor="end" >1.0</text>
<text x="645.5" y="706.0" font-size="14.90" fill="#262626" stroke="#262626" text-anchor="middle" dy="0.36em" transform="rotate(-90 645.5 706.0)">Relative motif counts</text>
<text x="708.7" y="911.0" font-size="13.30" fill="#262626" stroke="#262626" text-anchor="middle" dy="0.36em" transform="rotate(-45 708.7 911.0)">2012</text>
<text x="757.9" y="911.0" font-size="13.30" fill="#262626" stroke="#262626" text-anchor="middle" dy="0.36em" transform="rotate(-45 757.9 911.0)">2013</text>
<text x="807.0" y="911.0" font-size="13.30" fill="#262626" stroke="#262626" text-anchor="middle" dy="0.36em" transform="rotate(-45 807.0 911.0)">2014</text>
<text x="856.2" y="911.0" font-size="13.30" fill="#262626" stroke="#262626" text-anchor="middle" dy="0.36em" transform="rotate(-45 856.2 911.0)">2015</text>
<text x="905.4" y="911.0" font-size="13.30" fill="#262626" stroke="#262626" text-anchor="middle" dy="0.36em" transform="rotate(-45 905.4 911.0)">2016</text>
<text x="954.6" y="911.0" font-size="13.30" fill="#262626" stroke="#262626" text-anchor="middle" dy="0.36em" transform="rotate(-45 954.6 911.0)">2017</text>
<text x="1003.7" y="911.0" font-size="13.30" fill="#262626" stroke="#262626" text-anchor="middle" dy="0.36em" transform="rotate(-45 1003.7 911.0)">2018</text>
<text x="1052.9" y="911.0" font-size="13.30" fill="#262626" stroke="#262626" text-anchor="middle" dy="0.36em" transform="rotate(-45 1052.9 911.0)">2019</text>
<text x="1102.1" y="911.0" font-size="13.30" fill="#262626" stroke="#262626" text-anchor="middle" dy="0.36em" transform="rotate(-45 1102.1 911.0)">2020</text>
<text x="1151.2" y="911.0" font-size="13.30" fill="#262626" stroke="#262626" text-anchor="middle" dy="0.36em" transform="rotate(-45 1151.2 911.0)">2021</text>
<rect x="66.2" y="1084.2" width="435.6" height="327.7" fill="#EAEAF2"/>
<line x1="85" y1="1397.9" x2="482.4" y2="1397.9" stroke="#B4AEDD" stroke-width="1.5"/>
<polygon points="309.4,1397.9 319.1,1097.7 328.9,1379.9 338.6,1388.5 348.3,1397.9" fill="#B4AEDD" stroke="#B4AEDD" stroke-width="1.1" stroke-linejoin="round"/>
<polygon points="309.7,1397.9 319.1,1112.0 328.7,1381.3 338.6,1389.5 347.8,1397.9" fill="#F3AD6C"/>
<polygon points="310.0,1397.9 319.1,1268.0 328.5,1382.5 338.6,1390.3 347.3,1397.9" fill="#98FB6E"/>
<polygon points="310.0,1397.9 319.1,1271.0 328.5,1382.8 338.6,1390.5 347.3,1397.9" fill="#72EEFB"/>
<polygon points="310.2,1397.9 319.1,1360.5 328.4,1385.0 338.6,1392.8 346.8,1397.9" fill="#F970F9"/>
<polygon points="310.9,1397.9 319.1,1389.6 327.9,1396.8 328.9,1397.9" fill="#73759B"/>
<polygon points="192.6,1397.9 202.3,1395.8 212.1,1397.9" fill="#72EEFB" stroke="#B4AEDD" stroke-width="0.8" stroke-linejoin="round"/>
<polygon points="436.0,1397.9 455.4,1396.9 474.9,1396.0 482.4,1389.0 482.4,1397.9" fill="#B4AEDD" stroke="#B4AEDD" stroke-width="1.0" stroke-linejoin="round"/>
<polygon points="465.2,1397.9 474.9,1396.6 482.4,1391.0 482.4,1397.9" fill="#72EEFB"/>
<polygon points="465.2,1397.9 474.9,1396.9 482.4,1393.9 482.4,1397.9" fill="#F970F9"/>
<rect x="72.5" y="1090.0" width="225.0" height="121.3" rx="2.5" fill="#EAEAF2" fill-opacity="0.8" stroke="#CCCCCC" stroke-width="1"/>
<rect x="77.5" y="1095.3" width="28.5" height="10.5" fill="#73759B"/>
<text x="117.0" y="1105.2" font-size="13.70" fill="#262626" stroke="#262626">2 nodes, one direction</text>
<rect x="77.5" y="1114.8" width="28.5" height="10.5" fill="#98FB6E"/>
<text x="117.0" y="1124.7" font-size="13.70" fill="#262626" stroke="#262626">2 nodes, mixed directions</text>
<rect x="77.5" y="1134.3" width="28.5" height="10.5" fill="#F970F9"/>
<text x="117.0" y="1144.2" font-size="13.70" fill="#262626" stroke="#262626">3 node star, all incoming</text>
<rect x="77.5" y="1153.8" width="28.5" height="10.5" fill="#72EEFB"/>
<text x="117.0" y="1163.7" font-size="13.70" fill="#262626" stroke="#262626">3 node star, all outgoing</text>
<rect x="77.5" y="1173.3" width="28.5" height="10.5" fill="#F3AD6C"/>
<text x="117.0" y="1183.2" font-size="13.70" fill="#262626" stroke="#262626">3 node star, mixed directions</text>
<rect x="77.5" y="1192.8" width="28.5" height="10.5" fill="#B4AEDD"/>
<text x="117.0" y="1202.7" font-size="13.70" fill="#262626" stroke="#262626">Triangles</text>
<polyline points="85.0,1362.5 95.2,1392.5 105.0,1396.2 114.7,1390.8 124.4,1393.8 134.2,1396.2 143.9,1397.0 153.6,1397.8 163.4,1396.2 173.1,1394.5 182.8,1394.8 192.6,1395.0 202.3,1392.5 212.1,1395.0 221.8,1394.3 231.5,1393.8 241.3,1394.0 251.0,1395.5 260.7,1394.5 270.5,1395.5 280.2,1395.0 289.9,1397.0 299.7,1397.0 309.4,1393.5 319.1,1356.2 328.9,1369.0 338.6,1377.5 348.3,1385.6 358.1,1389.9 367.8,1391.2 377.5,1396.2 387.3,1394.7 397.0,1391.9 406.8,1381.1 416.5,1377.4 426.2,1376.1 436.0,1378.9 445.7,1375.7 455.4,1366.0 465.2,1302.3 474.9,1273.2 482.4,1098.3" fill="none" stroke="#D62728" stroke-width="1.9" stroke-dasharray="6.9 3.05" stroke-linejoin="round"/>
<line x1="58.0" y1="1397.7" x2="64.5" y2="1397.7" stroke="#262626" stroke-width="1.9"/>
<line x1="58.0" y1="1347.4" x2="64.5" y2="1347.4" stroke="#262626" stroke-width="1.9"/>
<line x1="58.0" y1="1297.1" x2="64.5" y2="1297.1" stroke="#262626" stroke-width="1.9"/>
<line x1="58.0" y1="1246.8" x2="64.5" y2="1246.8" stroke="#262626" stroke-width="1.9"/>
<line x1="58.0" y1="1196.5" x2="64.5" y2="1196.5" stroke="#262626" stroke-width="1.9"/>
<line x1="58.0" y1="1146.2" x2="64.5" y2="1146.2" stroke="#262626" stroke-width="1.9"/>
<line x1="58.0" y1="1095.9" x2="64.5" y2="1095.9" stroke="#262626" stroke-width="1.9"/>
<text x="53.3" y="1402.5" font-size="13.30" fill="#262626" stroke="#262626" text-anchor="end" >0.0</text>
<text x="53.3" y="1352.2" font-size="13.30" fill="#262626" stroke="#262626" text-anchor="end" >0.2</text>
<text x="53.3" y="1301.9" font-size="13.30" fill="#262626" stroke="#262626" text-anchor="end" >0.4</text>
<text x="53.3" y="1251.6" font-size="13.30" fill="#262626" stroke="#262626" text-anchor="end" >0.6</text>
<text x="53.3" y="1201.3" font-size="13.30" fill="#262626" stroke="#262626" text-anchor="end" >0.8</text>
<text x="53.3" y="1151.0" font-size="13.30" fill="#262626" stroke="#262626" text-anchor="end" >1.0</text>
<text x="53.3" y="1100.7" font-size="13.30" fill="#262626" stroke="#262626" text-anchor="end" >1.2</text>
<text x="66.5" y="1079.5" font-size="13.30" fill="#262626" stroke="#262626" text-anchor="start" >1e12</text>
<text x="21.3" y="1248.0" font-size="14.90" fill="#262626" stroke="#262626" text-anchor="middle" dy="0.36em" transform="rotate(-90 21.3 1248.0)">Number of motif instances</text>
<line x1="503.3" y1="1401.6" x2="509.7" y2="1401.6" stroke="#262626" stroke-width="1.9"/>
<line x1="503.3" y1="1359.1" x2="509.7" y2="1359.1" stroke="#262626" stroke-width="1.9"/>
<line x1="503.3" y1="1316.6" x2="509.7" y2="1316.6" stroke="#262626" stroke-width="1.9"/>
<line x1="503.3" y1="1274.0" x2="509.7" y2="1274.0" stroke="#262626" stroke-width="1.9"/>
<line x1="503.3" y1="1231.5" x2="509.7" y2="1231.5" stroke="#262626" stroke-width="1.9"/>
<line x1="503.3" y1="1189.0" x2="509.7" y2="1189.0" stroke="#262626" stroke-width="1.9"/>
<line x1="503.3" y1="1146.5" x2="509.7" y2="1146.5" stroke="#262626" stroke-width="1.9"/>
<line x1="503.3" y1="1104.0" x2="509.7" y2="1104.0" stroke="#262626" stroke-width="1.9"/>
<text x="514.4" y="1406.4" font-size="13.30" fill="#D62728" stroke="#D62728" text-anchor="start" >0.00</text>
<text x="514.4" y="1363.9" font-size="13.30" fill="#D62728" stroke="#D62728" text-anchor="start" >0.25</text>
<text x="514.4" y="1321.4" font-size="13.30" fill="#D62728" stroke="#D62728" text-anchor="start" >0.50</text>
<text x="514.4" y="1278.8" font-size="13.30" fill="#D62728" stroke="#D62728" text-anchor="start" >0.75</text>
<text x="514.4" y="1236.3" font-size="13.30" fill="#D62728" stroke="#D62728" text-anchor="start" >1.00</text>
<text x="514.4" y="1193.8" font-size="13.30" fill="#D62728" stroke="#D62728" text-anchor="start" >1.25</text>
<text x="514.4" y="1151.3" font-size="13.30" fill="#D62728" stroke="#D62728" text-anchor="start" >1.50</text>
<text x="514.4" y="1108.8" font-size="13.30" fill="#D62728" stroke="#D62728" text-anchor="start" >1.75</text>
<text x="502.0" y="1079.5" font-size="13.30" fill="#D62728" stroke="#D62728" text-anchor="end" >1e6</text>
<text x="551.5" y="1248.0" font-size="14.90" fill="#D62728" stroke="#D62728" text-anchor="middle" dy="0.36em" transform="rotate(-90 551.5 1248.0)">Number of transactions</text>
<text x="65.2" y="1447.0" font-size="13.30" fill="#262626" stroke="#262626" text-anchor="middle" dy="0.36em" transform="rotate(-45 65.2 1447.0)">2018-01</text>
<text x="104.8" y="1447.0" font-size="13.30" fill="#262626" stroke="#262626" text-anchor="middle" dy="0.36em" transform="rotate(-45 104.8 1447.0)">2018-05</text>
<text x="144.3" y="1447.0" font-size="13.30" fill="#262626" stroke="#262626" text-anchor="middle" dy="0.36em" transform="rotate(-45 144.3 1447.0)">2018-09</text>
<text x="183.9" y="1447.0" font-size="13.30" fill="#262626" stroke="#262626" text-anchor="middle" dy="0.36em" transform="rotate(-45 183.9 1447.0)">2019-01</text>
<text x="223.4" y="1447.0" font-size="13.30" fill="#262626" stroke="#262626" text-anchor="middle" dy="0.36em" transform="rotate(-45 223.4 1447.0)">2019-05</text>
<text x="262.9" y="1447.0" font-size="13.30" fill="#262626" stroke="#262626" text-anchor="middle" dy="0.36em" transform="rotate(-45 262.9 1447.0)">2019-09</text>
<text x="302.5" y="1447.0" font-size="13.30" fill="#262626" stroke="#262626" text-anchor="middle" dy="0.36em" transform="rotate(-45 302.5 1447.0)">2020-01</text>
<text x="342.0" y="1447.0" font-size="13.30" fill="#262626" stroke="#262626" text-anchor="middle" dy="0.36em" transform="rotate(-45 342.0 1447.0)">2020-05</text>
<text x="381.6" y="1447.0" font-size="13.30" fill="#262626" stroke="#262626" text-anchor="middle" dy="0.36em" transform="rotate(-45 381.6 1447.0)">2020-09</text>
<text x="421.1" y="1447.0" font-size="13.30" fill="#262626" stroke="#262626" text-anchor="middle" dy="0.36em" transform="rotate(-45 421.1 1447.0)">2021-01</text>
<text x="460.6" y="1447.0" font-size="13.30" fill="#262626" stroke="#262626" text-anchor="middle" dy="0.36em" transform="rotate(-45 460.6 1447.0)">2021-05</text>
<rect x="691.0" y="1070.6" width="492.0" height="341.3" fill="#EAEAF2"/>
<rect x="712.10" y="1084.90" width="449.60" height="312.10" fill="#B4AEDD"/>
<polygon points="712.1,1397.0 712.1,1086.7 722.7,1089.2 733.8,1091.3 744.8,1087.5 755.9,1090.8 766.9,1088.7 777.9,1086.3 789.0,1087.5 800.0,1088.7 811.1,1087.5 822.1,1086.3 833.1,1087.2 844.2,1086.3 855.2,1086.7 866.3,1086.7 877.3,1086.7 888.3,1086.7 899.4,1086.7 910.4,1086.7 921.5,1086.7 932.5,1086.7 943.5,1086.7 954.6,1086.7 965.6,1086.7 976.7,1086.7 987.7,1086.7 998.7,1086.7 1009.8,1086.7 1020.8,1086.7 1031.9,1086.7 1042.9,1086.7 1053.9,1087.5 1065.0,1093.3 1076.0,1089.7 1087.1,1087.5 1098.1,1088.7 1109.1,1088.3 1120.2,1088.0 1131.2,1086.7 1142.3,1086.7 1153.3,1086.7 1161.7,1086.7 1161.7,1397.0" fill="#F3AD6C"/>
<polygon points="712.1,1095.0 722.7,1109.2 733.8,1123.0 744.8,1094.7 755.9,1102.0 766.9,1097.5 777.9,1215.0 789.0,1133.3 800.0,1094.2 811.1,1092.5 822.1,1088.7 833.1,1096.7 844.2,1086.7 855.2,1091.3 866.3,1092.2 877.3,1093.0 888.3,1091.3 899.4,1101.3 910.4,1089.7 921.5,1088.7 932.5,1086.7 943.5,1087.5 954.6,1087.0 965.6,1086.7 976.7,1253.0 987.7,1135.0 998.7,1087.0 1009.8,1086.7 1020.8,1086.7 1031.9,1086.7 1042.9,1088.7 1053.9,1089.7 1065.0,1132.0 1076.0,1110.8 1087.1,1098.0 1098.1,1105.8 1109.1,1113.7 1120.2,1110.5 1131.2,1094.2 1142.3,1102.5 1153.3,1100.3 1161.7,1109.7 1161.7,1218.4 1153.3,1172.2 1142.3,1212.2 1131.2,1215.9 1120.2,1178.9 1109.1,1200.9 1098.1,1272.9 1087.1,1149.2 1076.0,1248.9 1065.0,1233.4 1053.9,1110.6 1042.9,1241.2 1031.9,1224.2 1020.8,1309.6 1009.8,1210.9 998.7,1232.2 987.7,1180.1 976.7,1350.1 965.6,1110.1 954.6,1144.2 943.5,1178.4 932.5,1110.1 921.5,1194.6 910.4,1165.1 899.4,1135.1 888.3,1300.6 877.3,1260.9 866.3,1161.7 855.2,1210.9 844.2,1387.6 833.1,1120.9 822.1,1096.2 811.1,1102.6 800.0,1119.2 789.0,1140.9 777.9,1215.0 766.9,1128.4 755.9,1167.6 744.8,1279.2 733.8,1217.6 722.7,1154.2 712.1,1330.9" fill="#72EEFB"/>
<polygon points="712.1,1330.0 722.7,1153.3 733.8,1216.7 744.8,1278.3 755.9,1166.7 766.9,1127.5 777.9,1215.0 789.0,1140.0 800.0,1118.3 811.1,1101.7 822.1,1095.3 833.1,1120.0 844.2,1386.7 855.2,1210.0 866.3,1160.8 877.3,1260.0 888.3,1299.7 899.4,1134.2 910.4,1164.2 921.5,1193.7 932.5,1109.2 943.5,1177.5 954.6,1143.3 965.6,1109.2 976.7,1349.2 987.7,1179.2 998.7,1231.3 1009.8,1210.0 1020.8,1308.7 1031.9,1223.3 1042.9,1240.3 1053.9,1109.7 1065.0,1232.5 1076.0,1248.0 1087.1,1148.3 1098.1,1272.0 1109.1,1200.0 1120.2,1178.0 1131.2,1215.0 1142.3,1211.3 1153.3,1171.3 1161.7,1217.5 1161.7,1390.9 1153.3,1373.4 1142.3,1373.9 1131.2,1381.2 1120.2,1370.1 1109.1,1367.6 1098.1,1384.2 1087.1,1372.9 1076.0,1384.2 1065.0,1391.7 1053.9,1395.6 1042.9,1363.9 1031.9,1368.9 1020.8,1376.7 1009.8,1353.9 998.7,1372.6 987.7,1389.2 976.7,1388.4 965.6,1390.6 954.6,1380.9 943.5,1378.4 932.5,1372.9 921.5,1362.6 910.4,1350.1 899.4,1369.2 888.3,1365.1 877.3,1370.6 866.3,1355.1 855.2,1378.4 844.2,1389.2 833.1,1386.7 822.1,1377.9 811.1,1388.4 800.0,1377.2 789.0,1368.9 777.9,1230.1 766.9,1379.6 755.9,1383.9 744.8,1374.2 733.8,1385.6 722.7,1390.6 712.1,1395.1" fill="#F970F9"/>
<polygon points="712.1,1397.5 712.1,1394.2 722.7,1389.7 733.8,1384.7 744.8,1373.3 755.9,1383.0 766.9,1378.7 777.9,1229.2 789.0,1368.0 800.0,1376.3 811.1,1387.5 822.1,1377.0 833.1,1385.8 844.2,1388.3 855.2,1377.5 866.3,1354.2 877.3,1369.7 888.3,1364.2 899.4,1368.3 910.4,1349.2 921.5,1361.7 932.5,1372.0 943.5,1377.5 954.6,1380.0 965.6,1389.7 976.7,1387.5 987.7,1388.3 998.7,1371.7 1009.8,1353.0 1020.8,1375.8 1031.9,1368.0 1042.9,1363.0 1053.9,1394.7 1065.0,1390.8 1076.0,1383.3 1087.1,1372.0 1098.1,1383.3 1109.1,1366.7 1120.2,1369.2 1131.2,1380.3 1142.3,1373.0 1153.3,1372.5 1161.7,1390.0 1161.7,1397.5" fill="#73759B"/>
<text x="677.5" y="1402.1" font-size="13.30" fill="#262626" stroke="#262626" text-anchor="end" >0.0</text>
<text x="677.5" y="1339.8" font-size="13.30" fill="#262626" stroke="#262626" text-anchor="end" >0.2</text>
<text x="677.5" y="1277.5" font-size="13.30" fill="#262626" stroke="#262626" text-anchor="end" >0.4</text>
<text x="677.5" y="1215.2" font-size="13.30" fill="#262626" stroke="#262626" text-anchor="end" >0.6</text>
<text x="677.5" y="1152.9" font-size="13.30" fill="#262626" stroke="#262626" text-anchor="end" >0.8</text>
<text x="677.5" y="1090.6" font-size="13.30" fill="#262626" stroke="#262626" text-anchor="end" >1.0</text>
<text x="645.6" y="1241.5" font-size="14.90" fill="#262626" stroke="#262626" text-anchor="middle" dy="0.36em" transform="rotate(-90 645.6 1241.5)">Relative motif counts</text>
<text x="691.0" y="1446.0" font-size="13.30" fill="#262626" stroke="#262626" text-anchor="middle" dy="0.36em" transform="rotate(-45 691.0 1446.0)">2018-01</text>
<text x="735.9" y="1446.0" font-size="13.30" fill="#262626" stroke="#262626" text-anchor="middle" dy="0.36em" transform="rotate(-45 735.9 1446.0)">2018-05</text>
<text x="780.7" y="1446.0" font-size="13.30" fill="#262626" stroke="#262626" text-anchor="middle" dy="0.36em" transform="rotate(-45 780.7 1446.0)">2018-09</text>
<text x="825.5" y="1446.0" font-size="13.30" fill="#262626" stroke="#262626" text-anchor="middle" dy="0.36em" transform="rotate(-45 825.5 1446.0)">2019-01</text>
<text x="870.4" y="1446.0" font-size="13.30" fill="#262626" stroke="#262626" text-anchor="middle" dy="0.36em" transform="rotate(-45 870.4 1446.0)">2019-05</text>
<text x="915.2" y="1446.0" font-size="13.30" fill="#262626" stroke="#262626" text-anchor="middle" dy="0.36em" transform="rotate(-45 915.2 1446.0)">2019-09</text>
<text x="960.1" y="1446.0" font-size="13.30" fill="#262626" stroke="#262626" text-anchor="middle" dy="0.36em" transform="rotate(-45 960.1 1446.0)">2020-01</text>
<text x="1005.0" y="1446.0" font-size="13.30" fill="#262626" stroke="#262626" text-anchor="middle" dy="0.36em" transform="rotate(-45 1005.0 1446.0)">2020-05</text>
<text x="1049.8" y="1446.0" font-size="13.30" fill="#262626" stroke="#262626" text-anchor="middle" dy="0.36em" transform="rotate(-45 1049.8 1446.0)">2020-09</text>
<text x="1094.7" y="1446.0" font-size="13.30" fill="#262626" stroke="#262626" text-anchor="middle" dy="0.36em" transform="rotate(-45 1094.7 1446.0)">2021-01</text>
<text x="1139.5" y="1446.0" font-size="13.30" fill="#262626" stroke="#262626" text-anchor="middle" dy="0.36em" transform="rotate(-45 1139.5 1446.0)">2021-05</text>
</svg>
<div class="cap" style="left:0.3px;top:427.90px;font-size:21.62px;line-height:26.0px;"><b style="font-size:20.7px">(a)</b> Monthly graph-wide motif counts over time for the Alphabay</div>
<div class="cap" style="left:0.3px;top:454.30px;font-size:21.62px;line-height:26.0px;">dataset separated by type. The dashed line shows the monthly</div>
<div class="cap" style="left:0.3px;top:480.50px;font-size:21.62px;line-height:26.0px;">number of transactions.</div>
<div class="cap" style="left:624.3px;top:427.90px;font-size:21.62px;line-height:26.0px;word-spacing:0.08px;width:575.7px;overflow:hidden;"><b style="font-size:20.7px">(b)</b> The monthly counts of different motif types in Alphabay as a</div>
<div class="cap" style="left:624.3px;top:454.30px;font-size:21.62px;line-height:26.0px;width:575.7px;overflow:hidden;">proportion of all motifs. The classification of motifs and colour</div>
<div class="cap" style="left:624.3px;top:480.50px;font-size:21.62px;line-height:26.0px;width:575.7px;overflow:hidden;">coding is the same as that used in (a).</div>
<div class="cap" style="left:0.3px;top:955.40px;font-size:21.62px;line-height:26.0px;"><b style="font-size:20.7px">(c)</b> Monthly graph-wide motif counts over time for the Hydra</div>
<div class="cap" style="left:0.3px;top:981.80px;font-size:21.62px;line-height:26.0px;">dataset separated by type. The dashed line shows the monthly</div>
<div class="cap" style="left:0.3px;top:1008.00px;font-size:21.62px;line-height:26.0px;">number of transactions.</div>
<div class="cap" style="left:624.3px;top:955.40px;font-size:21.62px;line-height:26.0px;word-spacing:0.08px;width:575.7px;overflow:hidden;"><b style="font-size:20.7px">(d)</b> The monthly counts of different motif types in Hydra as a</div>
<div class="cap" style="left:624.3px;top:981.80px;font-size:21.62px;line-height:26.0px;width:575.7px;overflow:hidden;">proportion of all motifs. The classification of motifs and colour</div>
<div class="cap" style="left:624.3px;top:1008.00px;font-size:21.62px;line-height:26.0px;width:575.7px;overflow:hidden;">coding is the same as that used in (a).</div>
<div class="cap" style="left:0.3px;top:1497.70px;font-size:21.62px;line-height:26.0px;"><b style="font-size:20.7px">(e)</b> Monthly graph-wide motif counts over time for the NFT trade</div>
<div class="cap" style="left:0.3px;top:1524.20px;font-size:21.62px;line-height:26.0px;">dataset separated by type. The dashed line shows the monthly</div>
<div class="cap" style="left:0.3px;top:1550.30px;font-size:21.62px;line-height:26.0px;">number of transactions.</div>
<div class="cap" style="left:624.3px;top:1497.70px;font-size:21.62px;line-height:26.0px;word-spacing:0.08px;width:575.7px;overflow:hidden;"><b style="font-size:20.7px">(f)</b> The monthly counts of different motif types in the NFT market</div>
<div class="cap" style="left:624.3px;top:1524.20px;font-size:21.62px;line-height:26.0px;word-spacing:-0.66px;width:575.7px;overflow:hidden;">as a proportion of all motifs. The classification of motifs and colour</div>
<div class="cap" style="left:624.3px;top:1550.30px;font-size:21.62px;line-height:26.0px;width:575.7px;overflow:hidden;">coding is the same as that used in (a).</div>
</div>
</body></html>
